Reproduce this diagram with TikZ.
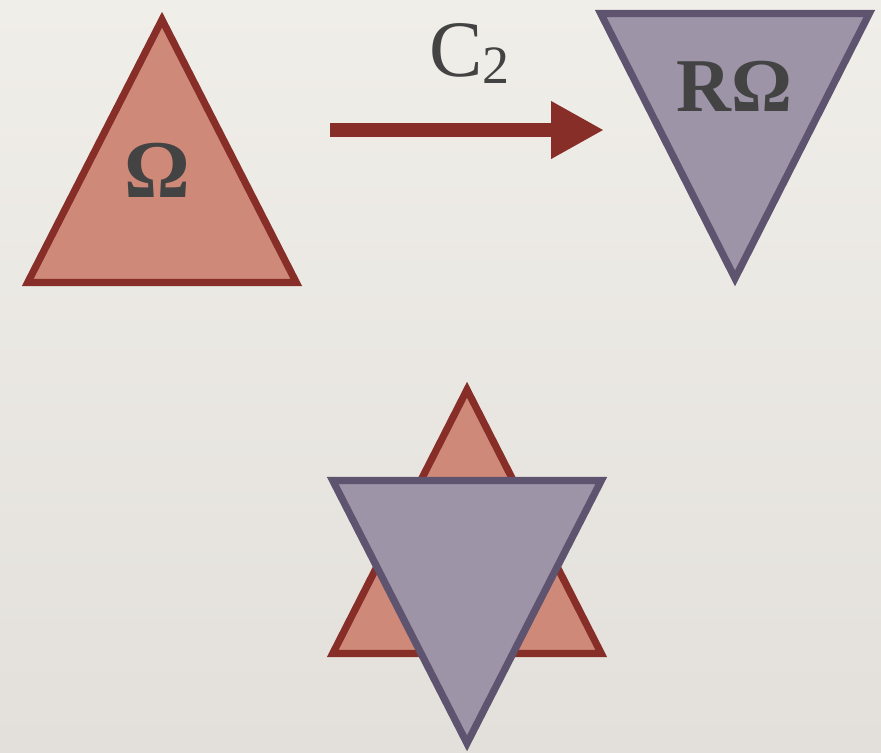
\documentclass[tikz,border=0pt]{standalone}
\usepackage{fontspec}
\setmainfont{Liberation Serif}
\usepackage{tikz}
\usetikzlibrary{arrows.meta,positioning,shapes}
\definecolor{omfill}{HTML}{CF8979}
\definecolor{omline}{HTML}{872E28}
\definecolor{rofill}{HTML}{9E94A8}
\definecolor{roline}{HTML}{5E5470}
\definecolor{txtgray}{HTML}{434343}
\definecolor{bgtop}{HTML}{F0EEE9}
\definecolor{bgbot}{HTML}{E3E0DB}

\begin{document}
\begin{tikzpicture}[x=0.5pt,y=-0.5pt,>=Latex,
  omtri/.style={draw=omline,fill=omfill,line width=3.6pt,line join=miter},
  rotri/.style={draw=roline,fill=rofill,line width=3.6pt,line join=miter},
  lbl/.style={inner sep=0pt,text=txtgray,font=\fontsize{41}{41}\selectfont\bfseries}]
\shade[top color=bgtop,bottom color=bgbot] (0,0) rectangle (881,752);
\useasboundingbox (0,0) rectangle (881,752);
\draw[omtri] (162,19.7) -- (27.7,282.5) -- (296.3,282.5) -- cycle;
\draw[rotri] (600.7,13.5) -- (869.3,13.5) -- (735,278.3) -- cycle;
\draw[omtri] (467,389.7) -- (332.7,653.5) -- (601.3,653.5) -- cycle;
\draw[rotri] (332.7,480.5) -- (601.3,480.5) -- (467,743.3) -- cycle;
\node[lbl] (om) at (157.5,170) {Ω};
\node[lbl,font=\fontsize{38}{38}\selectfont\bfseries] (rom) at (734,86.5) {RΩ};
\coordinate (c2a) at (330,130);
\coordinate (c2b) at (604,130);
\draw[-{Triangle[length=26.5pt,width=27pt]},omline,line width=7pt] (c2a) -- (c2b);
\node[inner sep=0pt,anchor=base west,text=txtgray,font=\fontsize{40}{40}\selectfont] (c2) at (429,76)
  {C\raisebox{-3.5pt}{\fontsize{27}{27}\selectfont 2}};
\end{tikzpicture}
\end{document}
